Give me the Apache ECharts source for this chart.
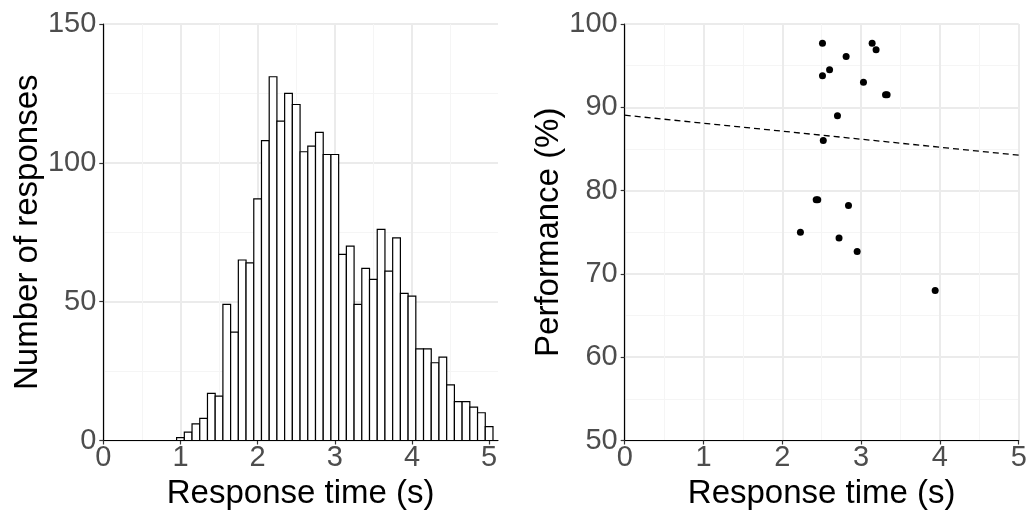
<!DOCTYPE html>
<html lang="en">
<head>
    <meta charset="UTF-8">
    <title>Response times</title>
    <script src="https://cdn.jsdelivr.net/npm/echarts@6/dist/echarts.min.js"></script>
    <style>
        html, body { margin: 0; padding: 0; background: #fff; }
    </style>
</head>
<body>
    <div style="width: 1029px; height: 512px" id="main"></div>
    <script type="text/javascript">
        // histogram: bin centres (s) and counts
        var binWidth = 0.1;
        var binCenters = [1.0, 1.1, 1.2, 1.3, 1.4, 1.5, 1.6, 1.7, 1.8, 1.9,
                          2.0, 2.1, 2.2, 2.3, 2.4, 2.5, 2.6, 2.7, 2.8, 2.9,
                          3.0, 3.1, 3.2, 3.3, 3.4, 3.5, 3.6, 3.7, 3.8, 3.9,
                          4.0, 4.1, 4.2, 4.3, 4.4, 4.5, 4.6, 4.7, 4.8, 4.9, 5.0];
        var binCounts = [1, 3, 6, 8, 17, 16, 49, 39, 65, 64,
                         87, 108, 131, 115, 125, 121, 104, 106, 111, 103,
                         103, 67, 70, 49, 62, 58, 76, 61, 73, 53,
                         52, 33, 33, 28, 30, 20, 14, 14, 12, 10, 5];

        // scatter: mean response time vs performance
        var rtMean = [2.51, 3.14, 3.19, 2.81, 2.60, 2.51, 3.03, 3.31, 3.33, 2.70,
                      2.52, 2.43, 2.45, 2.84, 2.23, 2.72, 2.95, 3.94];
        var perf = [97.7, 97.7, 96.9, 96.1, 94.5, 93.8, 93.0, 91.5, 91.5, 89.0,
                    86.0, 78.9, 78.9, 78.2, 75.0, 74.3, 72.7, 68.0];

        // fitted line (dashed)
        var fitIntercept = 89.05;
        var fitSlope = -0.96;
        var fitX = [0, 5];

        var xTicks = [0, 1, 2, 3, 4, 5];

        var FONT = "'Liberation Sans', Arial, sans-serif";
        var tickColor = '#4d4d4d';

        function axisBase() {
            return {
                nameLocation: 'middle',
                nameTextStyle: { fontFamily: FONT, fontSize: 33, color: '#000' },
                axisLine: { show: true, onZero: false, lineStyle: { color: '#000', width: 1.2 } },
                axisTick: { show: true, length: 4, lineStyle: { color: '#333', width: 1.2 } },
                axisLabel: { fontFamily: FONT, fontSize: 29, color: tickColor },
                splitLine: { show: true, lineStyle: { color: '#ebebeb', width: 2 } },
                minorTick: { show: false, splitNumber: 2 },
                minorSplitLine: { show: true, lineStyle: { color: '#f5f5f5', width: 1 } }
            };
        }

        var xHist = axisBase();
        xHist.gridIndex = 0;
        xHist.type = 'value';
        xHist.min = 0;
        xHist.max = 5.115;
        xHist.interval = 1;
        xHist.name = 'Response time (s)';
        xHist.nameGap = 33;
        xHist.axisLabel.margin = 3;
        xHist.axisLabel.customValues = xTicks;
        xHist.axisTick.customValues = xTicks;
        xHist.splitLine.showMaxLine = false;

        var yHist = axisBase();
        yHist.gridIndex = 0;
        yHist.type = 'value';
        yHist.min = 0;
        yHist.max = 150;
        yHist.interval = 50;
        yHist.name = 'Number of responses';
        yHist.nameGap = 58;
        yHist.axisLabel.margin = 7;

        var xSc = axisBase();
        xSc.gridIndex = 1;
        xSc.type = 'value';
        xSc.min = 0;
        xSc.max = 5;
        xSc.interval = 1;
        xSc.name = 'Response time (s)';
        xSc.nameGap = 33;
        xSc.axisLabel.margin = 3;

        var ySc = axisBase();
        ySc.gridIndex = 1;
        ySc.type = 'value';
        ySc.min = 50;
        ySc.max = 100;
        ySc.interval = 10;
        ySc.name = 'Performance (%)';
        ySc.nameGap = 58;
        ySc.axisLabel.margin = 7;

        var histData = binCenters.map(function (c, i) { return [c, binCounts[i]]; });
        var scatterData = rtMean.map(function (x, i) { return [x, perf[i]]; });
        var fitData = fitX.map(function (x) { return [x, fitIntercept + fitSlope * x]; });

        var myChart = echarts.init(document.getElementById('main'), null, { renderer: 'canvas' });
        option = {
            backgroundColor: '#fff',
            animation: false,
            textStyle: { fontFamily: FONT },
            grid: [
                { left: 103.3, right: 531, top: 24, bottom: 71.5, containLabel: false, outerBoundsMode: 'none' },
                { left: 624.7, right: 10.3, top: 24, bottom: 71.5, containLabel: false, outerBoundsMode: 'none' }
            ],
            xAxis: [xHist, xSc],
            yAxis: [yHist, ySc],
            series: [
                {
                    type: 'custom',
                    xAxisIndex: 0,
                    yAxisIndex: 0,
                    data: histData,
                    renderItem: function (params, api) {
                        var x = api.value(0);
                        var y = api.value(1);
                        var p0 = api.coord([x - binWidth / 2, y]);
                        var p1 = api.coord([x + binWidth / 2, 0]);
                        return {
                            type: 'rect',
                            shape: { x: p0[0], y: p0[1], width: p1[0] - p0[0], height: p1[1] - p0[1] },
                            style: { fill: '#fff', stroke: '#000', lineWidth: 1.2 }
                        };
                    }
                },
                {
                    type: 'line',
                    xAxisIndex: 1,
                    yAxisIndex: 1,
                    data: fitData,
                    symbol: 'none',
                    lineStyle: { color: '#000', width: 1.3, type: [6, 4] },
                    silent: true
                },
                {
                    type: 'scatter',
                    xAxisIndex: 1,
                    yAxisIndex: 1,
                    data: scatterData,
                    symbol: 'circle',
                    symbolSize: 7,
                    itemStyle: { color: '#000', opacity: 1 }
                }
            ]
        };
        myChart.setOption(option);
    </script>
</body>
</html>
